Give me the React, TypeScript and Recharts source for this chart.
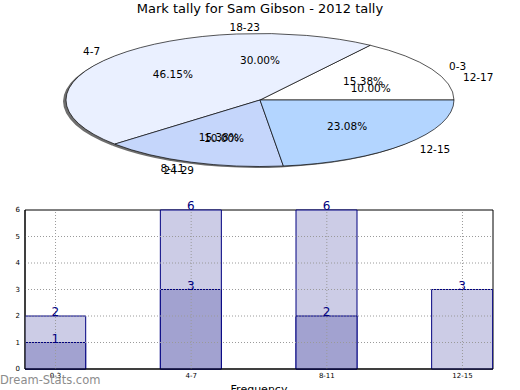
import React from "react";
import { BarChart, Bar, XAxis, YAxis, LabelList, ReferenceArea, ReferenceLine, PieChart, Pie, Cell } from "recharts";

// pie (two tallies drawn on top of each other)
const pieNames = ["0-3", "4-7", "8-11", "12-15"];
const pieValues = [2, 6, 2, 3];
const pieColors = ["#ffffff", "#eaf0ff", "#c5d6fb", "#b3d5ff"];
const pie2Names = ["12-17", "18-23", "", "24-29", ""];
const pie2Values = [1, 3, 2.5, 1, 2.5];

// bars
const categories = ["0-3", "4-7", "8-11", "12-15"];
const totalValues = [2, 6, 6, 3];
const markValues = [1, 3, 2, 0];
const yTicks = [0, 1, 2, 3, 4, 5, 6];

const FONT = "'DejaVu Sans', sans-serif";
const R = 194;
const SY = 66.5 / 194;
const PIE_H = 480;

const pieData = pieNames.map((name, i) => ({ name, value: pieValues[i] }));
const pie2Data = pie2Names.map((name, i) => ({ name, value: pie2Values[i] }));
const barData = categories.map((c, i) => ({ idx: i, cat: c, total: totalValues[i], marks: markValues[i] }));
const xTicks = categories.map((_, i) => i);
const yGrid = yTicks.filter((t) => t > 0 && t < 6);

const renderPieLabel = (p: any) => {
  const { cx, cy, midAngle, percent, name } = p;
  if (!name) return null;
  const rad = (midAngle * Math.PI) / 180;
  const cos = Math.cos(rad);
  const sin = Math.sin(rad);
  const lx = cx + R * 1.1 * cos;
  const ly = cy - R * 1.1 * sin;
  const px = cx + R * 0.6 * cos;
  const py = cy - R * 0.6 * sin;
  const style = { fontFamily: FONT, fontSize: 10.5, fill: "#000" };
  return (
    <g>
      <text transform={`translate(${lx} ${ly}) scale(1 ${1 / SY})`} x={0} y={0} textAnchor={cos > 1e-6 ? "start" : "end"} dominantBaseline="central" style={style}>
        {name}
      </text>
      <text transform={`translate(${px} ${py}) scale(1 ${1 / SY})`} x={0} y={0} textAnchor="middle" dominantBaseline="central" style={style}>
        {(percent * 100).toFixed(2)}%
      </text>
    </g>
  );
};

const hideZero = (v: any) => (v ? v : "");

export default function App() {
  return (
    <div style={{ position: "absolute", left: 0, top: 0, width: 520, height: 390, background: "#fff", overflow: "hidden" }}>
      <div style={{ position: "absolute", left: 0, top: 1, width: 520, textAlign: "center", fontFamily: FONT, fontSize: 13, lineHeight: "16px" }}>
        Mark tally for Sam Gibson - 2012 tally
      </div>

      <BarChart width={520} height={390} data={barData} margin={{ top: 210, right: 27, bottom: 0, left: 0 }} style={{ position: "absolute", left: 0, top: 0 }}>
        <XAxis xAxisId="a" dataKey="idx" type="number" domain={[-0.225, 3.225]} ticks={xTicks} tickFormatter={(i: number) => categories[i]} tick={{ fontSize: 7, fill: "#000", fontFamily: FONT }} tickLine={false} tickSize={0} axisLine={{ stroke: "#000" }} tickMargin={4} height={21} allowDataOverflow label={{ value: "Frequency", position: "insideBottom", offset: -3, fontSize: 11, fill: "#000", fontFamily: FONT }} />
        <XAxis xAxisId="b" dataKey="idx" type="number" domain={[-0.225, 3.225]} hide allowDataOverflow />
        <YAxis domain={[0, 6]} ticks={yTicks} width={25} tick={{ fontSize: 7, fill: "#000", fontFamily: FONT }} tickLine={false} tickSize={0} axisLine={{ stroke: "#000" }} tickMargin={5} />
        <Bar xAxisId="a" dataKey="total" barSize={61} fill="#ccccE6" stroke="#000080" strokeWidth={1} isAnimationActive={false}>
          <LabelList dataKey="total" position="top" offset={0} formatter={hideZero} style={{ fontSize: 12, fill: "#000080", fontFamily: FONT }} />
        </Bar>
        <Bar xAxisId="b" dataKey="marks" barSize={61} fill="#a2a2d0" stroke="#000080" strokeWidth={1} isAnimationActive={false}>
          <LabelList dataKey="marks" position="top" offset={0} formatter={hideZero} style={{ fontSize: 12, fill: "#000080", fontFamily: FONT }} />
        </Bar>
        {yGrid.map((t) => (
          <ReferenceLine key={`y${t}`} xAxisId="a" y={t} stroke="#9a9a9a" strokeDasharray="1 2" />
        ))}
        {xTicks.map((t) => (
          <ReferenceLine key={`x${t}`} xAxisId="a" x={t} stroke="#9a9a9a" strokeDasharray="1 2" />
        ))}
        <ReferenceArea xAxisId="a" x1={-0.225} x2={3.225} y1={0} y2={6} fill="none" stroke="#000" strokeWidth={1} ifOverflow="visible" />
      </BarChart>

      <div style={{ position: "absolute", left: 0, top: 100 - PIE_H / 2, width: 520, height: PIE_H, transform: `scaleY(${SY})`, transformOrigin: `260px ${PIE_H / 2}px` }}>
        <PieChart width={520} height={PIE_H} margin={{ top: 0, right: 0, bottom: 0, left: 0 }}>
          <Pie data={pieData} dataKey="value" nameKey="name" cx={257} cy={PIE_H / 2 + 4} outerRadius={R} startAngle={0} endAngle={360} fill="#6e6e6e" stroke="none" isAnimationActive={false} />
          <Pie data={pieData} dataKey="value" nameKey="name" cx={260} cy={PIE_H / 2} outerRadius={R} startAngle={0} endAngle={360} stroke="#000" strokeWidth={1} vectorEffect="non-scaling-stroke" label={renderPieLabel} labelLine={false} isAnimationActive={false}>
            {pieData.map((d, i) => (
              <Cell key={d.name} fill={pieColors[i]} />
            ))}
          </Pie>
          <Pie data={pie2Data} dataKey="value" nameKey="name" cx={260} cy={PIE_H / 2} outerRadius={R} startAngle={0} endAngle={360} fill="none" stroke="none" label={renderPieLabel} labelLine={false} isAnimationActive={false} />
        </PieChart>
      </div>

      <div style={{ position: "absolute", left: 0, top: 373, fontFamily: FONT, fontSize: 11.5, lineHeight: "14px", color: "#8c8c8c" }}>
        Dream-Stats.com
      </div>
    </div>
  );
}
